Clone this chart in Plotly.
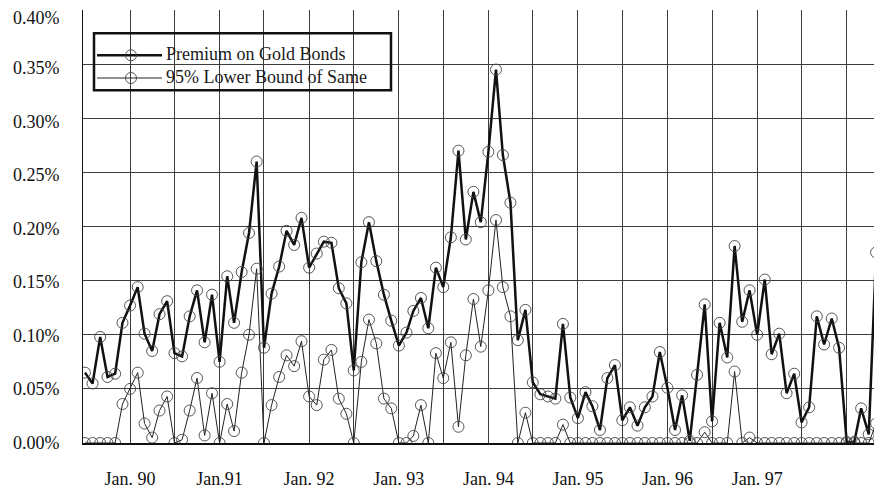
import pandas as pd
import plotly.graph_objects as go

# Monthly observations, Jul 1989 onward (values in percent)
months = pd.date_range("1989-07-01", periods=108, freq="MS")

premium = [
    0.065, 0.055, 0.098, 0.061, 0.064, 0.111, 0.127, 0.144, 0.101, 0.085,
    0.119, 0.131, 0.083, 0.080, 0.117, 0.141, 0.093, 0.137, 0.075, 0.154,
    0.111, 0.158, 0.194, 0.260, 0.088, 0.138, 0.163, 0.196, 0.183, 0.208,
    0.162, 0.175, 0.186, 0.185, 0.143, 0.129, 0.067, 0.167, 0.204, 0.168,
    0.137, 0.113, 0.090, 0.102, 0.122, 0.134, 0.106, 0.162, 0.144, 0.190,
    0.270, 0.188, 0.232, 0.204, 0.269, 0.345, 0.266, 0.222, 0.095, 0.123,
    0.056, 0.045, 0.043, 0.041, 0.110, 0.042, 0.023, 0.047, 0.034, 0.012,
    0.060, 0.072, 0.021, 0.033, 0.016, 0.033, 0.043, 0.084, 0.051, 0.012,
    0.044, 0.002, 0.063, 0.128, 0.020, 0.111, 0.079, 0.182, 0.112, 0.141,
    0.100, 0.151, 0.082, 0.101, 0.046, 0.064, 0.019, 0.033, 0.117, 0.091,
    0.115, 0.088, 0.001, 0.001, 0.032, 0.008, 0.176, 0.020,
]

lower = [
    0.000, 0.000, 0.000, 0.000, 0.000, 0.036, 0.050, 0.065, 0.018, 0.005,
    0.030, 0.043, 0.000, 0.003, 0.030, 0.060, 0.007, 0.046, 0.000, 0.036,
    0.011, 0.065, 0.100, 0.161, 0.000, 0.035, 0.061, 0.081, 0.071, 0.094,
    0.043, 0.035, 0.077, 0.086, 0.041, 0.027, 0.000, 0.075, 0.114, 0.092,
    0.041, 0.032, 0.000, 0.000, 0.0065, 0.035, 0.000, 0.083, 0.060, 0.093,
    0.015, 0.081, 0.133, 0.089, 0.141, 0.206, 0.144, 0.117, 0.000, 0.028,
    0.000, 0.000, 0.000, 0.000, 0.017, 0.000, 0.000, 0.000, 0.000, 0.000,
    0.000, 0.000, 0.000, 0.000, 0.000, 0.000, 0.000, 0.000, 0.000, 0.000,
    0.000, 0.000, 0.000, 0.010, 0.000, 0.000, 0.000, 0.066, 0.000, 0.005,
    0.000, 0.000, 0.000, 0.000, 0.000, 0.000, 0.000, 0.000, 0.000, 0.000,
    0.000, 0.000, 0.000, 0.000, 0.000, 0.000, 0.018, 0.000,
]

series_names = ["Premium on Gold Bonds", "95% Lower Bound of Same"]

grid_dates = pd.date_range("1990-01-01", "1998-01-01", freq="6MS")
jan_labels = {
    "1990-01-01": "Jan. 90", "1991-01-01": "Jan.91", "1992-01-01": "Jan. 92",
    "1993-01-01": "Jan. 93", "1994-01-01": "Jan. 94", "1995-01-01": "Jan. 95",
    "1996-01-01": "Jan. 96", "1997-01-01": "Jan. 97",
}
tick_text = [jan_labels.get(d.strftime("%Y-%m-%d"), "") for d in grid_dates]

y_ticks = [0.00, 0.05, 0.10, 0.15, 0.20, 0.25, 0.30, 0.35, 0.40]
y_tick_text = ["0.00%", "0.05%", "0.10%", "0.15%", "0.20%", "0.25%", "0.30%", "0.35%", "0.40%"]

FONT = "Liberation Serif"
FS = 18
W, H = 874, 483
ML, MR, MT, MB = 75, 0, 2, 48
PW, PH = W - ML - MR, H - MT - MB


def px(xp):
    return (xp - ML) / PW


def py(yp):
    return 1 - (yp - MT) / PH


line_widths = [2.5, 1]
line_colors = ["#111111", "#222222"]

fig = go.Figure()
for name, vals, lw, lc in zip(series_names, [premium, lower], line_widths, line_colors):
    fig.add_trace(go.Scatter(
        x=months, y=vals, mode="lines+markers", name=name, showlegend=False,
        line=dict(color=lc, width=lw),
        marker=dict(symbol="circle-open", size=11, color="#444444", line=dict(width=0.9)),
    ))

# y tick labels (sit slightly below each gridline, as in the original)
for v, t in zip(y_ticks, y_tick_text):
    shift = -8 if v >= 0.4 else -v * 12
    fig.add_annotation(
        x=0, xref="paper", y=v, yref="y", text=t, showarrow=False,
        xanchor="right", yanchor="middle", xshift=-21, yshift=shift,
        font=dict(family=FONT, size=FS, color="#111111"),
    )

# legend box drawn in pixel layout
shapes = [dict(type="rect", xref="paper", yref="paper",
               x0=px(86), x1=px(383), y0=py(25.3), y1=py(82.3),
               line=dict(color="#111111", width=2.5), fillcolor="rgba(0,0,0,0)")]
row_y = [47.3, 70.0]
for name, ry, lw, lc in zip(series_names, row_y, line_widths, line_colors):
    shapes.append(dict(type="line", xref="paper", yref="paper",
                       x0=px(89), x1=px(154), y0=py(ry), y1=py(ry),
                       line=dict(color=lc, width=lw)))
    shapes.append(dict(type="circle", xref="paper", yref="paper",
                       x0=px(117.5), x1=px(128.5), y0=py(ry - 5.5), y1=py(ry + 5.5),
                       line=dict(color="#444444", width=0.9), fillcolor="rgba(0,0,0,0)"))
    fig.add_annotation(
        x=px(156), xref="paper", y=py(ry - 1), yref="paper", text=name, showarrow=False,
        xanchor="left", yanchor="middle",
        font=dict(family=FONT, size=FS, color="#1a1a1a"),
    )

fig.update_layout(
    width=W, height=H,
    margin=dict(l=ML, r=MR, t=MT, b=MB),
    paper_bgcolor="white", plot_bgcolor="white",
    font=dict(family=FONT, size=FS, color="#111111"),
    showlegend=False,
    shapes=shapes,
    xaxis=dict(
        type="date",
        range=["1989-06-23", "1998-05-25"],
        tickmode="array", tickvals=list(grid_dates), ticktext=tick_text,
        showgrid=True, gridcolor="#3c3c3c", gridwidth=1,
        showline=True, linecolor="#111111", linewidth=1.5,
        ticks="", ticklabelstandoff=19,
        tickfont=dict(family=FONT, size=FS),
        zeroline=False,
    ),
    yaxis=dict(
        range=[0, 0.40],
        tickmode="array", tickvals=y_ticks, showticklabels=False,
        showgrid=True, gridcolor="#3c3c3c", gridwidth=1,
        showline=True, linecolor="#111111", linewidth=1,
        zeroline=False, ticks="",
    ),
)

fig.write_html("out.html")
